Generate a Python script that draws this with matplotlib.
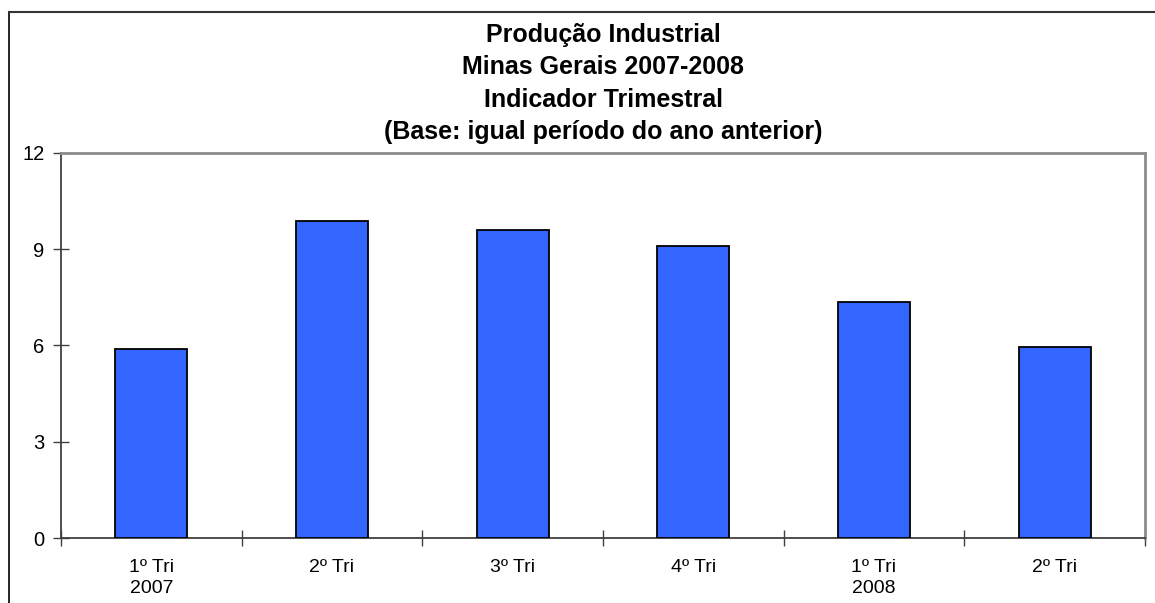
import matplotlib
matplotlib.use("Agg")
import matplotlib.pyplot as plt
from matplotlib.lines import Line2D

categories = ["1º Tri\n2007", "2º Tri", "3º Tri", "4º Tri", "1º Tri\n2008", "2º Tri"]
values = [5.9, 9.87, 9.58, 9.1, 7.36, 5.95]
yticks = [0, 3, 6, 9, 12]
title_lines = ["Produção Industrial", "Minas Gerais 2007-2008",
               "Indicador Trimestral", "(Base: igual período do ano anterior)"]

plt.rcParams['font.family'] = ['Liberation Sans', 'DejaVu Sans']

W, H = 1155, 603
fig = plt.figure(figsize=(W / 100, H / 100), dpi=100)
ax = fig.add_axes([61 / W, 1 - 538 / H, (1145 - 61) / W, (538 - 152.7) / H])

x = list(range(len(values)))
ax.bar(x, values, width=0.4, color="#3366FF", edgecolor="black", linewidth=1.3, zorder=3)

ax.set_xlim(-0.5, len(values) - 0.5)
ax.set_ylim(0, 12)
ax.set_yticks(yticks)
ax.set_yticklabels([str(v) for v in yticks], fontsize=14.5)

bounds = [i + 0.5 for i in range(-1, len(values))]
ax.set_xticks(bounds)
ax.set_xticklabels([""] * len(bounds))
ax.set_xticks(x, minor=True)
ax.set_xticklabels(categories, minor=True, fontsize=14, linespacing=1.3, va="top")

ax.tick_params(axis="x", which="major", direction="inout", length=11, width=1, color="#404040")
ax.tick_params(axis="x", which="minor", length=0, pad=15)
ax.tick_params(axis="y", direction="inout", length=11, width=1, color="#404040", pad=6.5)

for s in ["left", "bottom"]:
    ax.spines[s].set_color("#404040")
    ax.spines[s].set_linewidth(1.3)
for s in ["top", "right"]:
    ax.spines[s].set_color("#8c8c8c")
    ax.spines[s].set_linewidth(2)

baselines = [42, 74, 107, 139]
for t, yy in zip(title_lines, baselines):
    fig.text(603 / W, 1 - yy / H, t, ha="center", va="baseline", fontsize=18, fontweight="bold")

# outer chart border (top and left visible)
fig.add_artist(Line2D([9 / W, 9 / W], [0, 1 - 12 / H], transform=fig.transFigure, color="black", linewidth=1.2))
fig.add_artist(Line2D([9 / W, 1], [1 - 12 / H, 1 - 12 / H], transform=fig.transFigure, color="#333333", linewidth=1.5))

fig.savefig("out.png", dpi=100)
